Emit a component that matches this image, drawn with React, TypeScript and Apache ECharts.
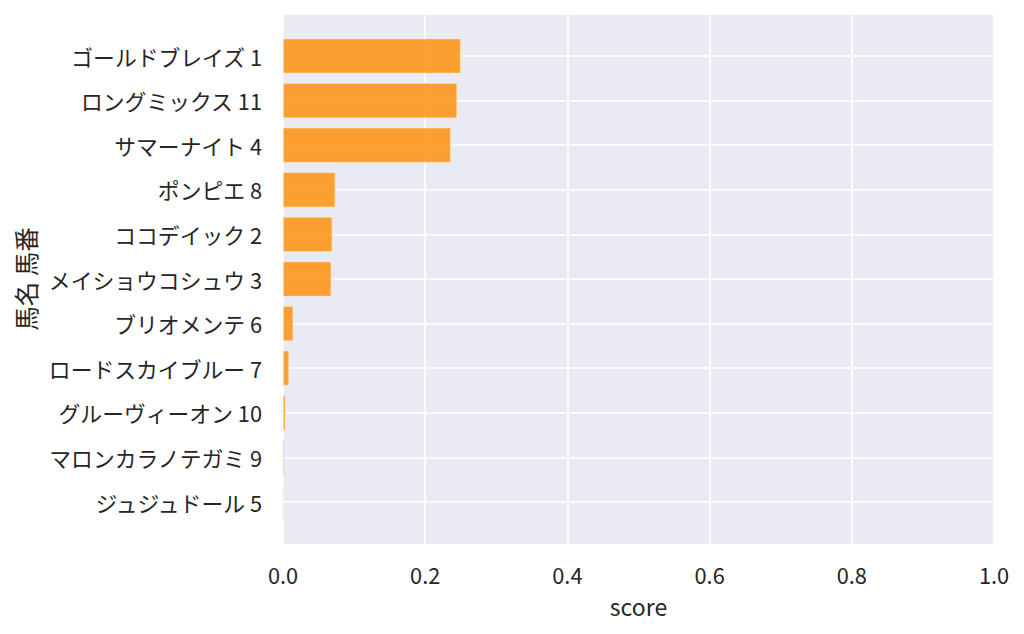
import React, { useEffect, useRef } from "react";
import * as echarts from "echarts";

const horses = [
  "ゴールドブレイズ 1",
  "ロングミックス 11",
  "サマーナイト 4",
  "ポンピエ 8",
  "ココデイック 2",
  "メイショウコシュウ 3",
  "ブリオメンテ 6",
  "ロードスカイブルー 7",
  "グルーヴィーオン 10",
  "マロンカラノテガミ 9",
  "ジュジュドール 5",
];
const scores = [0.25, 0.245, 0.236, 0.0736, 0.0694, 0.068, 0.0145, 0.0085, 0.0035, 0.002, 0.0006];
const xTicks = [0, 0.2, 0.4, 0.6, 0.8, 1.0];

const FONT = "'Noto Sans CJK JP', 'Noto Sans', sans-serif";
const TEXT = "#262626";

export default function App() {
  const ref = useRef<HTMLDivElement>(null);
  useEffect(() => {
    if (!ref.current) return;
    const chart = echarts.init(ref.current, undefined, { renderer: "svg" });
    chart.setOption({
      animation: false,
      textStyle: { fontFamily: FONT },
      grid: [
        { left: 283, right: 30, top: 15, bottom: 90, show: true, backgroundColor: "#EAEAF2", borderWidth: 0 },
        { left: 283, right: 30, top: 56, bottom: 132 },
      ],
      xAxis: [
        {
          gridIndex: 0,
          type: "value",
          min: 0,
          max: 1,
          interval: 0.2,
          axisLine: { show: false },
          axisTick: { show: false },
          splitLine: { show: true, lineStyle: { color: "#ffffff", width: 1.6 } },
          axisLabel: {
            margin: 20,
            fontSize: 21.8,
            color: TEXT,
            fontFamily: FONT,
            formatter: (v: number) => (xTicks.includes(Math.round(v * 10) / 10) ? v.toFixed(1) : ""),
          },
          name: "score",
          nameLocation: "middle",
          nameGap: 50,
          nameTextStyle: { fontSize: 23, color: TEXT, fontFamily: FONT },
        },
        {
          gridIndex: 1,
          type: "value",
          min: 0,
          max: 1,
          show: false,
          splitLine: { show: false },
        },
      ],
      yAxis: [
        {
          gridIndex: 0,
          type: "value",
          min: 0,
          max: 1,
          show: false,
          splitLine: { show: false },
        },
        {
          gridIndex: 1,
          type: "category",
          data: horses,
          inverse: true,
          boundaryGap: false,
          axisLine: { show: false },
          axisTick: { show: false },
          splitLine: { show: true, lineStyle: { color: "#ffffff", width: 1.6 } },
          axisLabel: { margin: 21, fontSize: 21.8, color: TEXT, fontFamily: FONT },
          name: "馬名 馬番",
          nameLocation: "middle",
          nameGap: 244,
          nameRotate: 90,
          nameTextStyle: { fontSize: 24.5, color: TEXT, fontFamily: FONT },
        },
      ],
      series: [
        {
          type: "bar",
          xAxisIndex: 1,
          yAxisIndex: 1,
          data: scores,
          barWidth: 35,
          clip: false,
          itemStyle: {
            color: "rgba(255,140,0,0.8)",
            borderColor: "rgba(255,230,200,0.6)",
            borderWidth: 0.8,
          },
        },
      ],
    });
    return () => chart.dispose();
  }, []);
  return <div ref={ref} style={{ width: 1024, height: 634, position: "absolute", left: 0, top: 0 }} />;
}
